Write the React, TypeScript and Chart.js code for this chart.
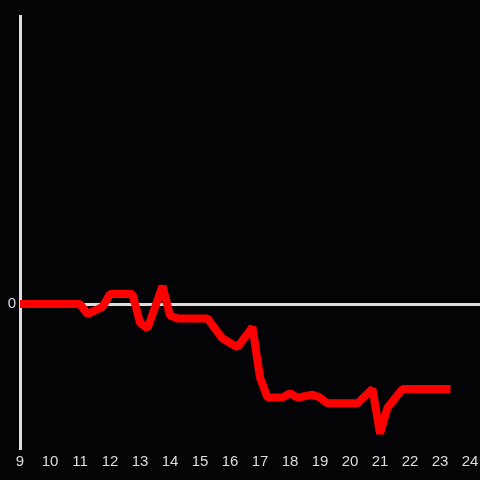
import React, { useEffect, useRef } from "react";
import { Chart, registerables } from "chart.js";

Chart.register(...registerables);

const hours = [9, 11, 11.25, 11.75, 12, 12.75, 13, 13.25, 13.75, 14, 14.25, 15.25, 15.75, 16.25, 16.75, 17, 17.25, 17.75, 18, 18.25, 18.75, 19, 19.25, 20.25, 20.75, 21, 21.25, 21.75, 23.35];
const values = [0, 0, -0.07, -0.02, 0.07, 0.07, -0.13, -0.17, 0.125, -0.08, -0.1, -0.1, -0.24, -0.3, -0.16, -0.51, -0.65, -0.65, -0.62, -0.65, -0.63, -0.65, -0.69, -0.69, -0.59, -0.9, -0.72, -0.59, -0.59];
const xTicks = [9, 10, 11, 12, 13, 14, 15, 16, 17, 18, 19, 20, 21, 22, 23, 24];
const yTicks = [0];

export default function App() {
  const ref = useRef<HTMLCanvasElement>(null);
  useEffect(() => {
    document.body.style.margin = "0";
    document.body.style.background = "#040306";
    const ctx = ref.current!;
    const chart = new Chart(ctx, {
      type: "line",
      data: {
        datasets: [
          {
            data: hours.map((h, i) => ({ x: h, y: values[i] })),
            borderColor: "#ff0000",
            borderWidth: 8,
            borderJoinStyle: "bevel",
            borderCapStyle: "butt",
            pointRadius: 0,
            tension: 0,
            fill: false,
          },
        ],
      },
      options: {
        animation: false,
        responsive: false,
        layout: { padding: { top: 16, left: 0, right: 0, bottom: 0 } },
        plugins: { legend: { display: false }, tooltip: { enabled: false } },
        scales: {
          x: {
            type: "linear",
            min: 9,
            max: 24 + 1 / 3,
            afterBuildTicks: (s: any) => {
              s.ticks = xTicks.map((v) => ({ value: v }));
            },
            afterFit: (s: any) => {
              s.height = 32;
              s.paddingLeft = 0;
              s.paddingRight = 0;
            },
            grid: { display: false, drawTicks: false },
            border: { display: false },
            ticks: {
              color: "#dddddd",
              font: { size: 15, family: "'Liberation Sans', Arial, sans-serif" },
              padding: 5,
              maxRotation: 0,
              autoSkip: false,
              callback: (v: any) => String(v),
            },
          },
          y: {
            type: "linear",
            min: -1,
            max: 2,
            afterBuildTicks: (s: any) => {
              s.ticks = yTicks.map((v) => ({ value: v }));
            },
            afterFit: (s: any) => {
              s.width = 20;
            },
            grid: {
              drawTicks: false,
              color: (c: any) => (c.tick && c.tick.value === 0 ? "#dddddd" : "rgba(0,0,0,0)"),
              lineWidth: 3,
            },
            border: { display: true, color: "#dddddd", width: 3 },
            ticks: {
              color: "#dddddd",
              font: { size: 15, family: "'Liberation Sans', Arial, sans-serif" },
              padding: 4,
              callback: (v: any) => String(v),
            },
          },
        },
      },
      plugins: [
        {
          id: "bg",
          beforeDraw: (c: any) => {
            const g = c.ctx;
            g.save();
            g.fillStyle = "#040306";
            g.fillRect(0, 0, c.width, c.height);
            g.restore();
          },
        },
      ],
    } as any);
    return () => chart.destroy();
  }, []);
  return (
    <div style={{ position: "absolute", left: 0, top: 0, width: 480, height: 480 }}>
      <canvas ref={ref} width={480} height={480} />
    </div>
  );
}
